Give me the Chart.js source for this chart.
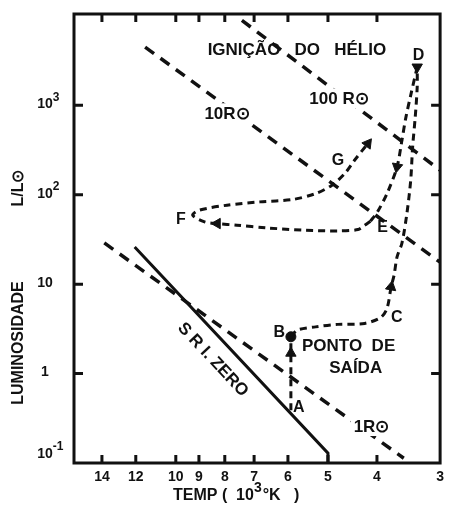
<!DOCTYPE html>
<html>
<head>
<meta charset="utf-8">
<script src="https://cdn.jsdelivr.net/npm/chart.js@4.4.1/dist/chart.umd.min.js"></script>
<style>
    html, body { margin: 0; padding: 0; background: #fff; }
    #wrap { width: 450px; height: 512px; }
</style>
</head>
<body>
<div id="wrap"><canvas id="hrChart"></canvas></div>
<script>
// -------------------------    Data    -------------------------
// temperature in 10^3 K, luminosity in L/Lsun

var tempTicks = [14, 12, 10, 9, 8, 7, 6, 5, 4, 3];
var lumTicks = [0.1, 1, 10, 100, 1000];
// tick label = base + superscript
var lumTickBase = ['10', '1', '10', '10', '10'];
var lumTickSup = ['-1', '', '', '2', '3'];

// zero age main sequence (solid)
var zamsTemp = [12.06, 5.0, 5.0];
var zamsLum = [26.1, 0.129, 0.1];

// constant radius lines
var r1Temp = [13.85, 3.54];
var r1Lum = [28.9, 0.113];
var r10Temp = [11.5, 3.0];
var r10Lum = [4480, 17.6];
var r100Temp = [7.4, 3.0];
var r100Lum = [8910, 188];

// evolution track: A -> B
var abTemp = [5.92, 5.92];
var abLum = [0.39, 2.58];
// B -> C -> D
var bdTemp = [5.92, 5.75, 5.29, 4.78, 4.23, 3.93, 3.82, 3.75, 3.70, 3.65, 3.57, 3.49, 3.43, 3.40, 3.36, 3.33, 3.33];
var bdLum = [2.58, 3.06, 3.33, 3.55, 3.64, 4.25, 5.39, 9.33, 12.6, 20.2, 28.7, 61.7, 145, 342, 740, 1600, 2680];
// D -> E
var deTemp = [3.33, 3.43, 3.51, 3.57, 3.65, 3.81, 3.99, 4.12];
var deLum = [2680, 1294, 710, 406, 205, 107, 64.3, 50.6];
// E -> F -> G
var egTemp = [4.12, 4.23, 4.36, 4.78, 5.54, 6.62, 7.57, 8.28, 8.77, 9.26, 8.99, 7.92, 6.82, 5.88, 5.29, 4.91, 4.63, 4.43, 4.17];
var egLum = [50.6, 45.6, 40.8, 39.4, 40.1, 42.6, 45.6, 47.6, 49.7, 59.0, 67.1, 76.4, 83.2, 88.3, 103, 128, 173, 243, 373];

// arrow heads on the track
var arrowTemp = [5.92, 3.75, 3.65, 3.33, 8.28, 4.17];
var arrowLum = [1.69, 9.33, 205, 2680, 47.6, 373];
var arrowAngle = [0, 10, 190, 180, 270, 37];

// dot at B
var dotTemp = [5.92];
var dotLum = [2.58];

// text notes
var noteText = ['IGNIÇÃO   DO   HÉLIO', 'D', '10R⊙', '100 R⊙', 'G', 'F', 'E', 'B', 'C', 'PONTO  DE', 'SAÍDA', 'A', '1R⊙', 'S R I. ZERO'];
var noteTemp = [5.76, 3.31, 7.92, 4.754, 4.775, 9.77, 3.90, 6.24, 3.656, 4.551, 4.406, 5.71, 4.10, 8.42];
var noteLum = [4230, 3720, 815, 1197, 247, 54.2, 43.6, 2.93, 4.38, 2.08, 1.19, 0.423, 0.259, 1.45];
var noteBoxed = [false, false, true, true, false, false, false, false, false, false, false, false, true, false];


// -------------------------    Helpers    -------------------------

function toPoints(xs, ys) {
    return xs.map(function (x, i) { return { x: x, y: ys[i] }; });
}

function lineSet(xs, ys, dash, width, tension) {
    return {
        data: toPoints(xs, ys),
        showLine: true,
        borderColor: '#111',
        borderWidth: width,
        borderDash: dash,
        pointRadius: 0,
        tension: tension,
        fill: false,
    };
}

var FONT = "'Liberation Sans', Arial, sans-serif";

// draws base text with a raised superscript, base centred on cx
function drawSup(ctx, base, sup, cx, cy, size, supSize) {
    ctx.font = 'bold ' + size + 'px ' + FONT;
    var bw = ctx.measureText(base).width;
    ctx.textAlign = 'left';
    ctx.textBaseline = 'middle';
    ctx.fillText(base, cx - bw / 2, cy);
    if (sup) {
        ctx.font = 'bold ' + supSize + 'px ' + FONT;
        ctx.fillText(sup, cx + bw / 2, cy - size * 0.5);
    }
}

// frame, inward ticks, notes and axis titles
var hrDecor = {
    id: 'hrDecor',
    afterDatasetsDraw: function (chart) {
        var ctx = chart.ctx;
        var xs = chart.scales.x, ys = chart.scales.y;
        ctx.save();
        ctx.fillStyle = '#111';
        ctx.textAlign = 'center';
        ctx.textBaseline = 'middle';

        // angle of the main sequence line for its label
        var zx0 = xs.getPixelForValue(zamsTemp[0]), zy0 = ys.getPixelForValue(zamsLum[0]);
        var zx1 = xs.getPixelForValue(zamsTemp[1]), zy1 = ys.getPixelForValue(zamsLum[1]);
        var zAngle = Math.atan2(zy1 - zy0, zx1 - zx0);

        for (let i = 0; i < noteText.length; i++) {
            let px = xs.getPixelForValue(noteTemp[i]);
            let py = ys.getPixelForValue(noteLum[i]);
            ctx.font = 'bold ' + (noteText[i].length === 1 ? 16 : 17) + 'px ' + FONT;
            ctx.save();
            ctx.translate(px, py);
            if (noteText[i] === 'S R I. ZERO') ctx.rotate(zAngle);
            if (noteBoxed[i]) {
                let w = ctx.measureText(noteText[i]).width;
                ctx.fillStyle = '#fff';
                ctx.fillRect(-w / 2 - 3, -10, w + 6, 20);
                ctx.fillStyle = '#111';
            }
            ctx.fillText(noteText[i], 0, 1);
            ctx.restore();
        }
        ctx.restore();
    },
    afterDraw: function (chart) {
        var ctx = chart.ctx, a = chart.chartArea;
        var xs = chart.scales.x, ys = chart.scales.y;
        ctx.save();
        ctx.strokeStyle = '#111';
        ctx.lineWidth = 3;
        ctx.strokeRect(a.left, a.top, a.right - a.left, a.bottom - a.top);

        ctx.beginPath();
        tempTicks.forEach(function (v) {
            var px = xs.getPixelForValue(v);
            if (px > a.right - 2) return;
            ctx.moveTo(px, a.bottom);
            ctx.lineTo(px, a.bottom - 8);
            ctx.moveTo(px, a.top);
            ctx.lineTo(px, a.top + 8);
        });
        lumTicks.forEach(function (v) {
            var py = ys.getPixelForValue(v);
            if (py > a.bottom - 2) return;
            ctx.moveTo(a.left, py);
            ctx.lineTo(a.left + 9, py);
            ctx.moveTo(a.right, py);
            ctx.lineTo(a.right - 9, py);
        });
        ctx.stroke();

        ctx.fillStyle = '#111';

        // y tick labels with superscripts
        lumTicks.forEach(function (v, i) {
            var py = Math.min(ys.getPixelForValue(v), a.bottom - 8) - 1;
            drawSup(ctx, lumTickBase[i], lumTickSup[i], a.left - 29, py, 14, 12);
        });

        // x axis title
        ctx.textBaseline = 'middle';
        ctx.font = 'bold 16px ' + FONT;
        ctx.textAlign = 'left';
        var tx = a.left + 99, ty = a.bottom + 33;
        var part1 = 'TEMP (  10';
        ctx.fillText(part1, tx, ty);
        tx += ctx.measureText(part1).width;
        ctx.font = 'bold 14px ' + FONT;
        ctx.fillText('3', tx, ty - 8);
        tx += ctx.measureText('3').width;
        ctx.font = 'bold 16px ' + FONT;
        ctx.fillText('°K   )', tx + 1, ty);

        // y axis title
        ctx.textAlign = 'center';
        ctx.save();
        ctx.translate(19, a.bottom - 120);
        ctx.rotate(-Math.PI / 2);
        ctx.fillText('LUMINOSIDADE', 0, 0);
        ctx.restore();
        ctx.save();
        ctx.translate(19, a.top + 174);
        ctx.rotate(-Math.PI / 2);
        ctx.fillText('L/L⊙', 0, 0);
        ctx.restore();

        ctx.restore();
    }
};


// -------------------------    Chart Setup    -------------------------

var datasets = [
    lineSet(zamsTemp, zamsLum, [], 3, 0),
    lineSet(r1Temp, r1Lum, [11, 8], 3.5, 0),
    lineSet(r10Temp, r10Lum, [11, 8], 3.5, 0),
    lineSet(r100Temp, r100Lum, [11, 8], 3.5, 0),
    lineSet(abTemp, abLum, [7, 5], 3, 0),
    lineSet(bdTemp, bdLum, [7, 5], 3, 0.3),
    lineSet(deTemp, deLum, [7, 5], 3, 0.3),
    lineSet(egTemp, egLum, [7, 5], 3, 0.3),
    {
        data: toPoints(arrowTemp, arrowLum),
        showLine: false,
        pointStyle: 'triangle',
        pointRadius: 6,
        pointRotation: arrowAngle,
        backgroundColor: '#111',
        borderColor: '#111',
        borderWidth: 1,
    },
    {
        data: toPoints(dotTemp, dotLum),
        showLine: false,
        pointStyle: 'circle',
        pointRadius: 5,
        backgroundColor: '#111',
        borderColor: '#111',
    },
];

var ctx = document.getElementById('hrChart').getContext('2d');
var hrChart = new Chart(ctx, {
    type: 'scatter',
    data: { datasets: datasets },
    options: {
        responsive: true,
        maintainAspectRatio: false,
        animation: false,
        layout: { padding: { top: 14, right: 3, left: 0, bottom: 0 } },
        plugins: {
            legend: { display: false },
            tooltip: { enabled: false },
        },
        scales: {
            x: {
                type: 'logarithmic',
                reverse: true,
                min: 3,
                max: 15.9,
                grid: { display: false, drawTicks: false },
                border: { display: false },
                afterBuildTicks: function (scale) {
                    scale.ticks = tempTicks.map(function (v) { return { value: v }; });
                },
                afterFit: function (scale) { scale.height = 49; },
                ticks: {
                    autoSkip: false,
                    maxRotation: 0,
                    padding: 6,
                    color: '#111',
                    font: { family: FONT, size: 14, weight: 'bold' },
                    callback: function (value) { return String(value); },
                },
            },
            y: {
                type: 'logarithmic',
                min: 0.1,
                max: 10500,
                grid: { display: false, drawTicks: false },
                border: { display: false },
                afterBuildTicks: function (scale) {
                    scale.ticks = lumTicks.map(function (v) { return { value: v }; });
                },
                afterFit: function (scale) { scale.width = 74; },
                ticks: { display: false },
            },
        },
    },
    plugins: [hrDecor],
});
</script>
</body>
</html>
